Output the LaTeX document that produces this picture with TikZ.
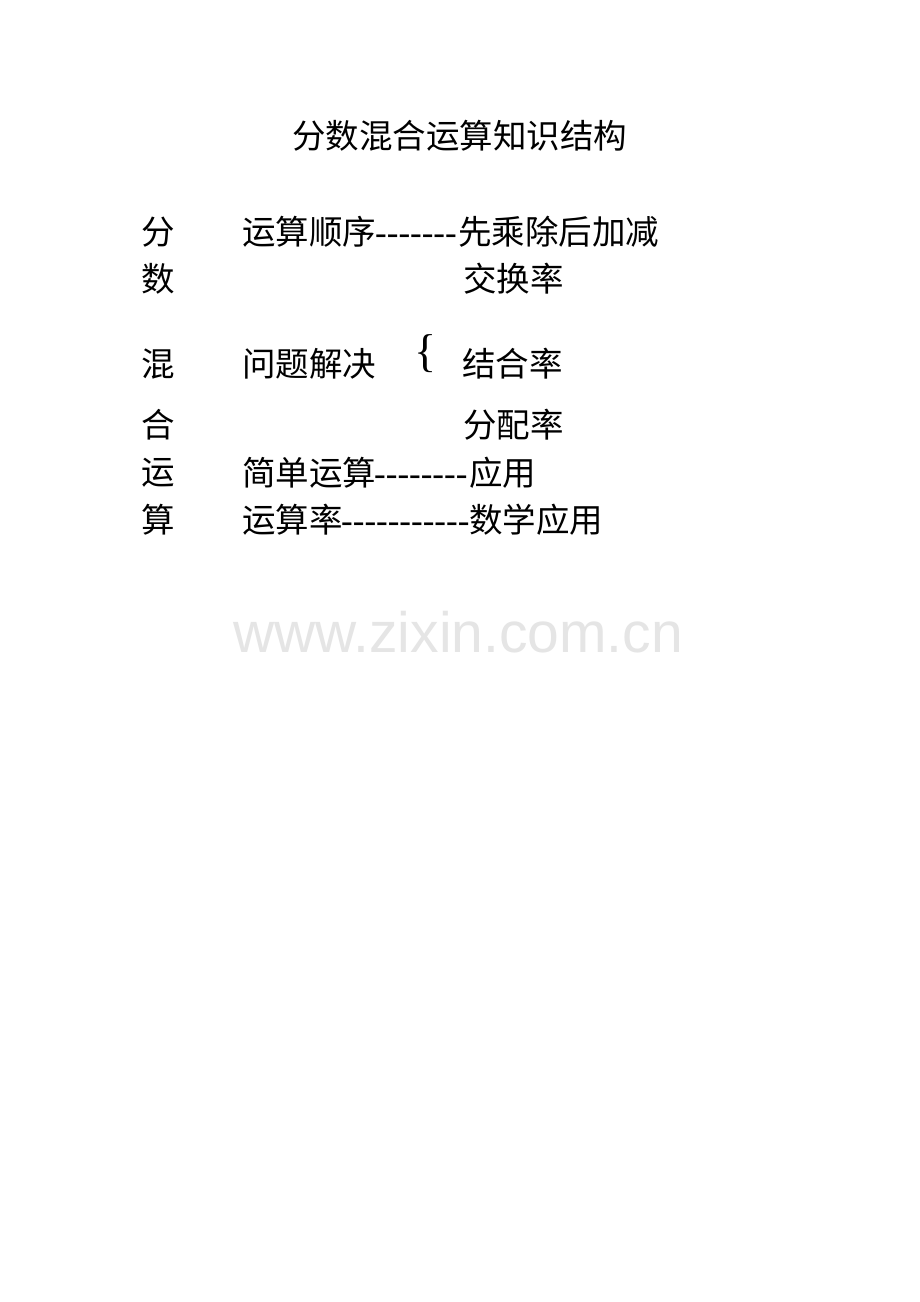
\documentclass[tikz,border=0pt]{standalone}
\usepackage{fontspec}
\setmainfont{Liberation Serif}
\newfontfamily\cjk{Noto Sans CJK SC}
\newfontfamily\wmfont{Liberation Sans}
\newcommand\onedash{\hbox{-}}
\begin{document}
\begin{tikzpicture}[x=1pt,y=-1pt,
  cn/.style={anchor=west,inner sep=0pt,font=\cjk\fontsize{33.5}{33.5}\selectfont},
  dashes/.style={anchor=base west,inner sep=0pt,font=\fontsize{35}{35}\selectfont},
  brace/.style={anchor=center,inner sep=0pt,font=\fontsize{46}{46}\selectfont},
  watermark/.style={anchor=base west,inner sep=0pt,text=black!10,font=\wmfont\fontsize{57}{57}\selectfont}]
\useasboundingbox[fill=white] (0,0) rectangle (920,1302);
% title
\node[cn] (title) at (292,136) {分数混合运算知识结构};
% left column
\node[cn] (l1) at (141,232) {分};
\node[cn] (l2) at (141,279) {数};
\node[cn] (l3) at (141,364) {混};
\node[cn] (l4) at (141,425) {合};
\node[cn] (l5) at (141,473) {运};
\node[cn] (l6) at (141,520) {算};
% row 1
\node[cn] (a1) at (242,232) {运算顺序};
\node[dashes] (d1) at (375,244) {\onedash\onedash\onedash\onedash\onedash\onedash\onedash};
\node[cn] (b1) at (458,232) {先乘除后加减};
% row 2
\node[cn] (b2) at (463,279) {交换率};
% row 3
\node[cn] (a3) at (242,364) {问题解决};
\node[brace] (br) at (426,354) {\{};
\node[cn] (b3) at (462,364) {结合率};
% row 4
\node[cn] (b4) at (463,425) {分配率};
% row 5
\node[cn] (a5) at (242,473) {简单运算};
\node[dashes] (d5) at (374,485) {\onedash\onedash\onedash\onedash\onedash\onedash\onedash\onedash};
\node[cn] (b5) at (469,473) {应用};
% row 6
\node[cn] (a6) at (242,520) {运算率};
\node[dashes] (d6) at (341,532) {\onedash\onedash\onedash\onedash\onedash\onedash\onedash\onedash\onedash\onedash\onedash};
\node[cn] (b6) at (469,520) {数学应用};
% watermark
\node[watermark] (wm) at (233,652) {www.zixin.com.cn};
\end{tikzpicture}
\end{document}
